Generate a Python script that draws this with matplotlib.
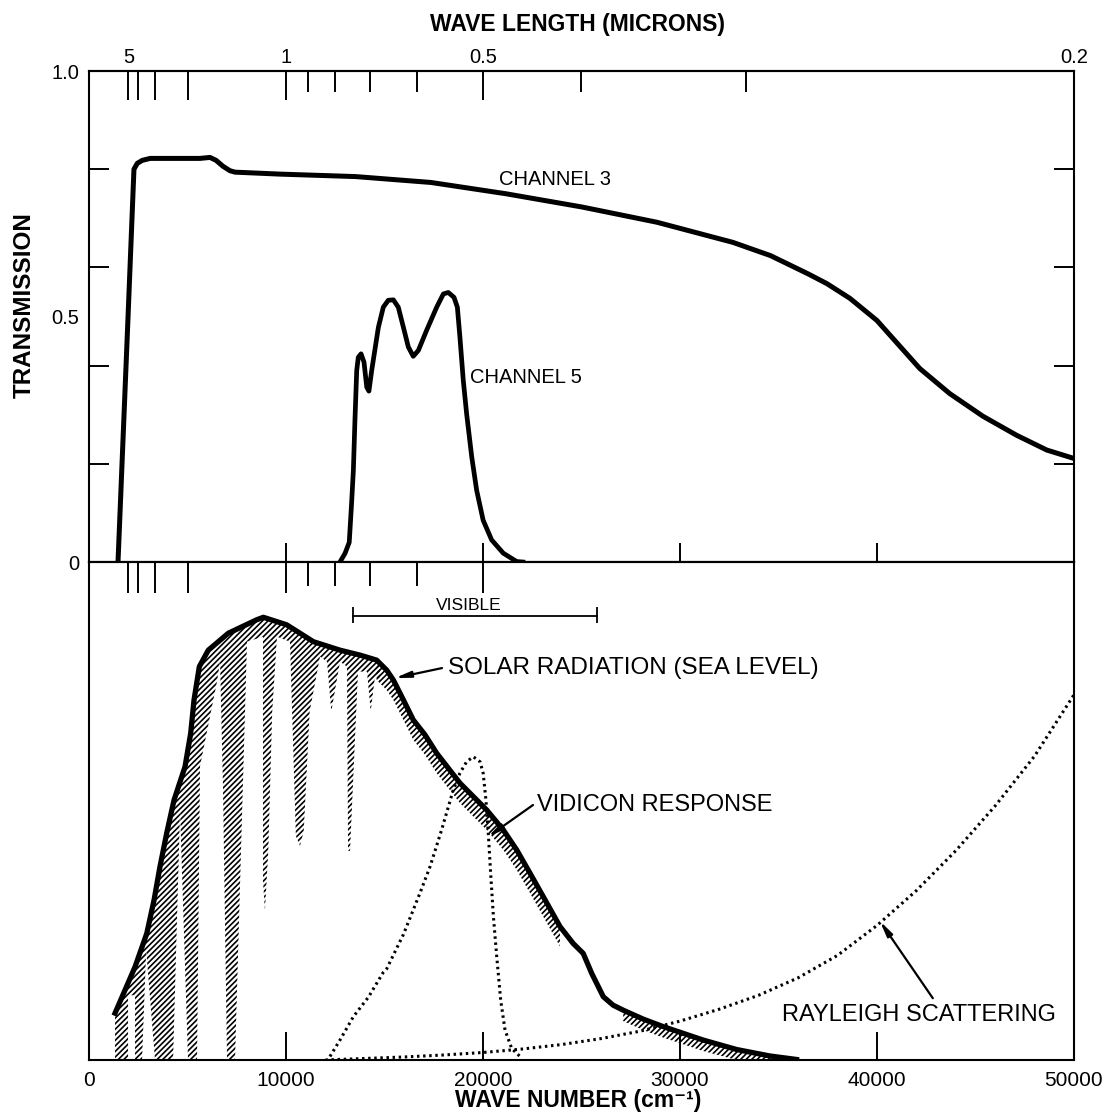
import numpy as np
import matplotlib
matplotlib.use("Agg")
import matplotlib.pyplot as plt

plt.rcParams['font.family'] = ['Liberation Sans', 'DejaVu Sans']
plt.rcParams['hatch.linewidth'] = 1.2

# --- top panel: filter transmission vs wave number (cm^-1)
ch3_wn = [1470, 1980, 2280, 2450, 2700, 3100, 5630, 6140, 6450, 6800, 7150, 7410, 9700,
          13530, 17360, 21170, 25030, 28830, 32690, 34600, 36500, 37460, 38630, 40000,
          41000, 42180, 43700, 45380, 47100, 48630, 50000]
ch3_t = [0.0, 0.5, 0.80, 0.812, 0.818, 0.822, 0.822, 0.824, 0.818, 0.806, 0.797, 0.794,
         0.790, 0.785, 0.773, 0.750, 0.723, 0.692, 0.651, 0.624, 0.587, 0.567, 0.537,
         0.492, 0.447, 0.394, 0.343, 0.297, 0.258, 0.228, 0.211]

ch5_wn = [12740, 13000, 13210, 13330, 13420, 13500, 13590, 13670, 13810, 13960, 14100,
          14210, 14350, 14690, 14940, 15190, 15450, 15700, 15960, 16210, 16460, 16720,
          17140, 17650, 17990, 18240, 18530, 18700, 18830, 19000, 19170, 19430, 19680,
          20010, 20440, 21030, 21710, 22030]
ch5_t = [0.0, 0.018, 0.04, 0.12, 0.187, 0.289, 0.39, 0.417, 0.424, 0.407, 0.356,
         0.348, 0.39, 0.478, 0.519, 0.533, 0.534, 0.519, 0.478, 0.438, 0.419, 0.431,
         0.472, 0.519, 0.546, 0.549, 0.539, 0.519, 0.458, 0.37, 0.302, 0.214, 0.146,
         0.085, 0.045, 0.018, 0.001, 0.0]

# wave length ticks (microns)
lam_major = [5, 4, 3, 2, 1, 0.5, 0.2]
lam_major_labels = ['5', '', '', '', '1', '0.5', '0.2']
lam_minor = [0.9, 0.8, 0.7, 0.6, 0.4, 0.3]
lam_mid_major = [5, 4, 3, 2, 1, 0.5]
lam_mid_minor = [0.9, 0.8, 0.7, 0.6]

# --- bottom panel: relative curves (no scale)
solar_wn = [1320, 2335, 2930, 3300, 3600, 3940, 4315, 4873, 5160, 5330, 5600, 6055, 7070,
            8510, 8850, 10030, 11390, 12740, 13760, 14600, 15110, 15450, 15960, 16460,
            17055, 17650, 18830, 20190, 21030, 21710, 22390, 23060, 23910, 24580, 25090,
            25520, 26110, 26610, 27120, 28140, 29150, 31180, 32880, 34570, 35920]
solar_v = [0.094, 0.187, 0.254, 0.321, 0.388, 0.455, 0.522, 0.589, 0.656, 0.723, 0.790,
           0.823, 0.857, 0.884, 0.889, 0.874, 0.840, 0.823, 0.813, 0.803, 0.783, 0.763,
           0.723, 0.683, 0.653, 0.616, 0.556, 0.502, 0.462, 0.422, 0.375, 0.328, 0.268,
           0.234, 0.214, 0.174, 0.127, 0.110, 0.100, 0.082, 0.067, 0.040, 0.021, 0.008,
           0.001]

# lower edge of the hatched (sea level) area, absorption bands left white
hatch_wn = [1320, 1980, 1980, 2335, 2335, 2690, 2900, 3350, 4264, 4620, 5025, 5482,
            5634, 6497, 6650, 6800, 7005, 7410, 8020, 8832, 8832, 8930, 9100, 9300,
            9543, 10203, 10500, 10710, 10900, 11200, 11726, 12081, 12300, 12741, 13096,
            13150, 13250, 13654, 14111, 14300, 14517, 14771]
hatch_low = [0, 0, 0.13, 0.13, 0, 0, 0.22, 0, 0, 0.50, 0, 0,
             0.59, 0.76, 0.80, 0.55, 0, 0, 0.84, 0.85, 0.36, 0.30, 0.42, 0.70,
             0.85, 0.84, 0.45, 0.43, 0.46, 0.70, 0.81, 0.80, 0.70, 0.80, 0.79,
             0.42, 0.42, 0.78, 0.78, 0.70, 0.77, 0.76]
# thin hatched band under the curve: (from, to, depth)
band_ranges = [(14600, 23910, 0.04), (27120, 35920, 0.022)]

vid_wn = [12230, 12740, 13420, 14180, 14940, 15110, 15960, 16800, 17310, 17900, 18490,
          18830, 19170, 19510, 19850, 20010, 20150, 20270, 20390, 20530, 20700, 20900,
          21120, 21460, 21880]
vid_v = [0.007, 0.04, 0.087, 0.126, 0.176, 0.183, 0.252, 0.335, 0.388, 0.462, 0.542,
         0.576, 0.599, 0.609, 0.599, 0.576, 0.522, 0.455, 0.375, 0.288, 0.207, 0.12,
         0.06, 0.023, 0.007]

ray_wn = [12000, 14000, 16000, 18000, 20000, 22000, 24000, 26000, 28000, 30000, 32000,
          34000, 36000, 38000, 40000, 42000, 44000, 46000, 48000, 50000]
ray_v = [0.0, 0.003, 0.006, 0.01, 0.015, 0.022, 0.031, 0.043, 0.058, 0.078, 0.102,
         0.13, 0.165, 0.21, 0.27, 0.34, 0.42, 0.51, 0.61, 0.733]

visible = (13400, 25800)

fig = plt.figure(figsize=(11.09, 11.20), dpi=100)
ax1 = fig.add_axes([0.0803, 0.4982, 0.888, 0.4384])
ax2 = fig.add_axes([0.0803, 0.0536, 0.888, 0.4446])

for ax in (ax1, ax2):
    ax.set_xlim(0, 50000)
    ax.set_ylim(0, 1)
    for s in ax.spines.values():
        s.set_linewidth(1.5)

# top panel
ax1.plot(ch3_wn, ch3_t, color='k', lw=3.6, solid_joinstyle='round')
ax1.plot(ch5_wn, ch5_t, color='k', lw=3.4, solid_joinstyle='round')
ax1.text(23660, 0.78, 'CHANNEL 3', fontsize=14.5, ha='center', va='center')
ax1.text(19340, 0.375, 'CHANNEL 5', fontsize=14.5, ha='left', va='center')

ax1.set_xticks([10000, 20000, 30000, 40000])
ax1.set_xticklabels([])
ax1.tick_params(axis='x', which='major', direction='in', length=14, width=1.4)
ax1.set_yticks([0, 0.5, 1.0])
ax1.set_yticklabels(['0', '0.5', '1.0'])
ax1.tick_params(axis='y', which='major', length=0, pad=7, labelsize=14.5)
ax1.set_yticks([0.2, 0.4, 0.6, 0.8], minor=True)
ax1.tick_params(axis='y', which='minor', direction='in', length=14.5, width=1.4,
                left=True, right=True)

sec1 = ax1.secondary_xaxis('top')
sec1.set_xticks([10000 / l for l in lam_major], lam_major_labels)
sec1.set_xticks([10000 / l for l in lam_minor], minor=True)
sec1.tick_params(which='major', direction='in', length=21, width=1.4, labelsize=14.5, pad=3)
sec1.tick_params(which='minor', direction='in', length=15, width=1.4)
sec1.spines['top'].set_linewidth(1.5)

# bottom panel
upper = np.interp(hatch_wn, solar_wn, solar_v)
ax2.fill_between(hatch_wn, hatch_low, upper, facecolor='none', edgecolor='k',
                 hatch='//////', linewidth=0)
sw = np.array(solar_wn)
sv = np.array(solar_v)
for lo, hi, d in band_ranges:
    m = (sw >= lo) & (sw <= hi)
    ax2.fill_between(sw[m], np.clip(sv[m] - d, 0, None), sv[m], facecolor='none',
                     edgecolor='k', hatch='//////', linewidth=0)
ax2.plot(solar_wn, solar_v, color='k', lw=3.8, solid_joinstyle='round')

ax2.plot(vid_wn, vid_v, color='k', lw=2.2, linestyle=(0, (0.8, 1.2)))
ax2.plot(ray_wn, ray_v, color='k', lw=2.2, linestyle=(0, (0.8, 1.2)))

ax2.plot(visible, [0.892, 0.892], color='k', lw=1.3)
ax2.vlines(visible, 0.877, 0.91, color='k', lw=1.3)
ax2.text(19290, 0.898, 'VISIBLE', fontsize=12.5, ha='center', va='bottom')

arrow = dict(arrowstyle='-|>,head_length=0.9,head_width=0.18', color='k', lw=1.6,
             shrinkA=0, shrinkB=0)
ax2.annotate('', xy=(15530, 0.767), xytext=(17920, 0.787), arrowprops=arrow)
ax2.text(18220, 0.787, 'SOLAR RADIATION (SEA LEVEL)', fontsize=17.5, ha='left', va='center')
ax2.annotate('', xy=(20250, 0.448), xytext=(22540, 0.512), arrowprops=arrow)
ax2.text(22740, 0.512, 'VIDICON RESPONSE', fontsize=17, ha='left', va='center')
ax2.annotate('', xy=(40150, 0.279), xytext=(42840, 0.124), arrowprops=arrow)
ax2.text(35180, 0.09, 'RAYLEIGH SCATTERING', fontsize=17, ha='left', va='center')

ax2.set_xticks([0, 10000, 20000, 30000, 40000, 50000])
ax2.set_xticklabels(['0', '10000', '20000', '30000', '40000', '50000'])
ax2.tick_params(axis='x', direction='in', length=20, width=1.4, labelsize=15, pad=8)
ax2.set_yticks([])

sec2 = ax2.secondary_xaxis('top')
sec2.set_xticks([10000 / l for l in lam_mid_major], [''] * len(lam_mid_major))
sec2.set_xticks([10000 / l for l in lam_mid_minor], minor=True)
sec2.tick_params(which='major', direction='in', length=22, width=1.4)
sec2.tick_params(which='minor', direction='in', length=17, width=1.4)
sec2.spines['top'].set_linewidth(1.5)

fig.text(578 / 1109, 1 - 25 / 1120, 'WAVE LENGTH (MICRONS)', fontsize=16.5,
         fontweight='bold', ha='center', va='center')
fig.text(578 / 1109, 1 - 1100 / 1120, 'WAVE NUMBER (cm⁻¹)', fontsize=16.5,
         fontweight='bold', ha='center', va='center')
fig.text(24 / 1109, 1 - 305 / 1120, 'TRANSMISSION', fontsize=17.5, fontweight='bold',
         rotation=90, ha='center', va='center')

fig.savefig('out.png', dpi=100)
